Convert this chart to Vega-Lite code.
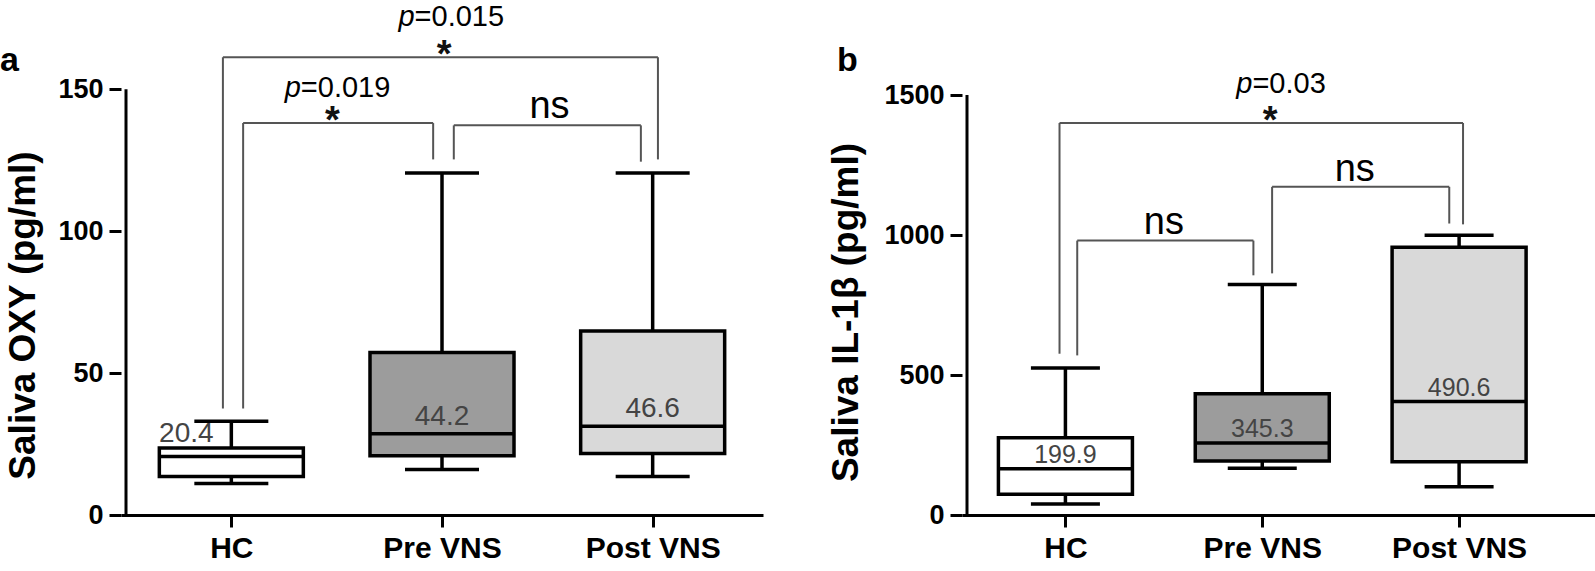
{
  "$schema": "https://vega.github.io/schema/vega-lite/v6.json",
  "padding": 0,
  "background": "white",
  "bounds": "flush",
  "spacing": 199,
  "datasets": {
    "boxesA": [
      {"g": 1, "name": "HC", "min": 11.1, "q1": 13.6, "median": 20.6, "q3": 23.6, "max": 33.0, "mean": 20.4},
      {"g": 2, "name": "Pre VNS", "min": 16.0, "q1": 20.9, "median": 28.6, "q3": 57.3, "max": 120.5, "mean": 44.2},
      {"g": 3, "name": "Post VNS", "min": 13.6, "q1": 21.7, "median": 31.3, "q3": 64.8, "max": 120.5, "mean": 46.6}
    ],
    "boxesB": [
      {"g": 1, "name": "HC", "min": 39, "q1": 74, "median": 165, "q3": 276, "max": 525, "mean": 199.9},
      {"g": 2, "name": "Pre VNS", "min": 167, "q1": 193, "median": 257, "q3": 433, "max": 823, "mean": 345.3},
      {"g": 3, "name": "Post VNS", "min": 101, "q1": 190, "median": 405, "q3": 956, "max": 999, "mean": 490.6}
    ],
    "bracketsA": [
      {"x1": 0.96, "x2": 3.025, "top": 161.3, "lb": 37.5, "rb": 125.3},
      {"x1": 1.056, "x2": 1.958, "top": 138.1, "lb": 37.5, "rb": 125.3},
      {"x1": 2.056, "x2": 2.944, "top": 137.3, "lb": 125.3, "rb": 124.5}
    ],
    "bracketsB": [
      {"x1": 0.97, "x2": 3.02, "top": 1400, "lb": 576, "rb": 1038},
      {"x1": 1.06, "x2": 1.955, "top": 980, "lb": 570, "rb": 856},
      {"x1": 2.05, "x2": 2.95, "top": 1172, "lb": 863, "rb": 1041}
    ],
    "annA": [
      {"kind": "p", "x": 1.87, "y": 172.3, "rest": "=0.015"},
      {"kind": "p", "x": 1.33, "y": 147.4, "rest": "=0.019"},
      {"kind": "star", "x": 2.01, "y": 158.0, "rest": "*"},
      {"kind": "star", "x": 1.48, "y": 134.5, "rest": "*"},
      {"kind": "ns", "x": 2.51, "y": 139.8, "rest": "ns"}
    ],
    "annB": [
      {"kind": "p", "x": 1.95, "y": 1508, "rest": "=0.03"},
      {"kind": "star", "x": 2.04, "y": 1365, "rest": "*"},
      {"kind": "ns", "x": 1.5, "y": 1003, "rest": "ns"},
      {"kind": "ns", "x": 2.47, "y": 1194, "rest": "ns"}
    ]
  },
  "config": {
    "view": {"stroke": null},
    "axis": {
      "grid": false,
      "domainColor": "black",
      "domainWidth": 3,
      "tickColor": "black",
      "tickWidth": 3,
      "tickSize": 12,
      "labelFont": "Liberation Sans",
      "labelFontWeight": "bold",
      "labelFontSize": 30,
      "labelColor": "black",
      "titleFont": "Liberation Sans",
      "titleFontWeight": "bold",
      "titleFontSize": 37,
      "titleColor": "black"
    },
    "axisY": {"labelFontSize": 27},
    "text": {"font": "Liberation Sans"}
  },
  "hconcat": [
    {
      "width": 642,
      "height": 515,
      "title": {"text": "a", "anchor": "start", "frame": "group", "dx": -121, "dy": 105, "offset": 0, "baseline": "alphabetic", "fontSize": 34, "font": "Liberation Sans", "fontWeight": "bold", "color": "black"},
      "layer": [
        {
          "data": {"values": [{}]},
          "mark": {"type": "rule", "strokeWidth": 3, "color": "black"},
          "encoding": {
            "x": {"datum": 0.5, "type": "quantitative"},
            "y": {"datum": 0, "type": "quantitative"},
            "y2": {"datum": 150}
          }
        },
        {
          "data": {"name": "boxesA"},
          "mark": {"type": "rule", "strokeWidth": 3.5, "color": "black"},
          "encoding": {
            "x": {"field": "g", "type": "quantitative", "scale": {"domain": [0.5, 3.5], "nice": false, "zero": false},
              "axis": {"values": [1, 2, 3], "labelExpr": "datum.value == 1 ? 'HC' : datum.value == 2 ? 'Pre VNS' : 'Post VNS'", "title": null, "labelPadding": 6, "labelFlush": false, "labelOverlap": false, "labelBound": false}},
            "y": {"field": "min", "type": "quantitative", "scale": {"domain": [0, 181.47], "nice": false, "zero": false},
              "axis": {"values": [0, 50, 100, 150], "format": "d", "domain": false, "title": "Saliva OXY (pg/ml)", "titleX": -87, "titleY": 315, "titleAngle": -90, "titleBaseline": "alphabetic", "titleAlign": "center", "labelPadding": 6, "labelOverlap": false, "labelFlush": false}},
            "y2": {"field": "max"}
          }
        },
        {
          "data": {"name": "boxesA"},
          "mark": {"type": "bar", "width": 144, "stroke": "black", "strokeWidth": 3.5},
          "encoding": {
            "x": {"field": "g", "type": "quantitative"},
            "y": {"field": "q1", "type": "quantitative"},
            "y2": {"field": "q3"},
            "fill": {"field": "name", "type": "nominal", "scale": {"domain": ["HC", "Pre VNS", "Post VNS"], "range": ["#ffffff", "#9c9c9c", "#d9d9d9"]}, "legend": null}
          }
        },
        {
          "data": {"name": "boxesA"},
          "mark": {"type": "tick", "orient": "horizontal", "size": 144, "thickness": 3.5, "color": "black", "opacity": 1},
          "encoding": {
            "x": {"field": "g", "type": "quantitative"},
            "y": {"field": "median", "type": "quantitative"}
          }
        },
        {
          "data": {"name": "boxesA"},
          "mark": {"type": "tick", "orient": "horizontal", "size": 74, "thickness": 3.5, "color": "black", "opacity": 1},
          "encoding": {
            "x": {"field": "g", "type": "quantitative"},
            "y": {"field": "min", "type": "quantitative"}
          }
        },
        {
          "data": {"name": "boxesA"},
          "mark": {"type": "tick", "orient": "horizontal", "size": 74, "thickness": 3.5, "color": "black", "opacity": 1},
          "encoding": {
            "x": {"field": "g", "type": "quantitative"},
            "y": {"field": "max", "type": "quantitative"}
          }
        },
        {
          "data": {"name": "boxesA"},
          "transform": [{"filter": "datum.name != 'HC'"}],
          "mark": {"type": "text", "fontSize": 28, "color": "#444444", "baseline": "alphabetic", "align": "center", "dy": -9},
          "encoding": {
            "x": {"field": "g", "type": "quantitative"},
            "y": {"field": "median", "type": "quantitative"},
            "text": {"field": "mean", "type": "quantitative", "format": ".1f"}
          }
        },
        {
          "data": {"name": "boxesA"},
          "transform": [{"filter": "datum.name == 'HC'"}],
          "mark": {"type": "text", "fontSize": 28, "color": "#444444", "baseline": "alphabetic", "align": "center", "dx": -45, "dy": -15},
          "encoding": {
            "x": {"field": "g", "type": "quantitative"},
            "y": {"field": "median", "type": "quantitative"},
            "text": {"field": "mean", "type": "quantitative", "format": ".1f"}
          }
        },
        {
          "data": {"name": "bracketsA"},
          "mark": {"type": "rule", "strokeWidth": 2, "color": "#555555"},
          "encoding": {
            "x": {"field": "x1", "type": "quantitative"},
            "x2": {"field": "x2"},
            "y": {"field": "top", "type": "quantitative"}
          }
        },
        {
          "data": {"name": "bracketsA"},
          "mark": {"type": "rule", "strokeWidth": 2, "color": "#555555"},
          "encoding": {
            "x": {"field": "x1", "type": "quantitative"},
            "y": {"field": "lb", "type": "quantitative"},
            "y2": {"field": "top"}
          }
        },
        {
          "data": {"name": "bracketsA"},
          "mark": {"type": "rule", "strokeWidth": 2, "color": "#555555"},
          "encoding": {
            "x": {"field": "x2", "type": "quantitative"},
            "y": {"field": "rb", "type": "quantitative"},
            "y2": {"field": "top"}
          }
        },
        {
          "data": {"name": "annA"},
          "transform": [{"filter": "datum.kind == 'p'"}],
          "mark": {"type": "text", "text": "p", "fontStyle": "italic", "fontSize": 29, "align": "right", "baseline": "alphabetic", "color": "black"},
          "encoding": {
            "x": {"field": "x", "type": "quantitative"},
            "y": {"field": "y", "type": "quantitative"}
          }
        },
        {
          "data": {"name": "annA"},
          "transform": [{"filter": "datum.kind == 'p'"}],
          "mark": {"type": "text", "fontSize": 29, "align": "left", "baseline": "alphabetic", "color": "black"},
          "encoding": {
            "x": {"field": "x", "type": "quantitative"},
            "y": {"field": "y", "type": "quantitative"},
            "text": {"field": "rest"}
          }
        },
        {
          "data": {"name": "annA"},
          "transform": [{"filter": "datum.kind == 'star'"}],
          "mark": {"type": "text", "fontSize": 38, "fontWeight": "bold", "align": "center", "baseline": "alphabetic", "color": "#111111"},
          "encoding": {
            "x": {"field": "x", "type": "quantitative"},
            "y": {"field": "y", "type": "quantitative"},
            "text": {"field": "rest"}
          }
        },
        {
          "data": {"name": "annA"},
          "transform": [{"filter": "datum.kind == 'ns'"}],
          "mark": {"type": "text", "fontSize": 38, "align": "center", "baseline": "alphabetic", "color": "black"},
          "encoding": {
            "x": {"field": "x", "type": "quantitative"},
            "y": {"field": "y", "type": "quantitative"},
            "text": {"field": "rest"}
          }
        }
      ]
    },
    {
      "width": 633,
      "height": 515,
      "title": {"text": "b", "anchor": "start", "frame": "group", "dx": -125, "dy": 105, "offset": 0, "baseline": "alphabetic", "fontSize": 34, "font": "Liberation Sans", "fontWeight": "bold", "color": "black"},
      "layer": [
        {
          "data": {"values": [{}]},
          "mark": {"type": "rule", "strokeWidth": 3, "color": "black"},
          "encoding": {
            "x": {"datum": 0.5, "type": "quantitative"},
            "y": {"datum": 0, "type": "quantitative"},
            "y2": {"datum": 1500}
          }
        },
        {
          "data": {"name": "boxesB"},
          "mark": {"type": "rule", "strokeWidth": 3.5, "color": "black"},
          "encoding": {
            "x": {"field": "g", "type": "quantitative", "scale": {"domain": [0.5, 3.665], "nice": false, "zero": false},
              "axis": {"values": [1, 2, 3], "labelExpr": "datum.value == 1 ? 'HC' : datum.value == 2 ? 'Pre VNS' : 'Post VNS'", "title": null, "labelPadding": 6, "labelFlush": false, "labelOverlap": false, "labelBound": false}},
            "y": {"field": "min", "type": "quantitative", "scale": {"domain": [0, 1839.3], "nice": false, "zero": false},
              "axis": {"values": [0, 500, 1000, 1500], "format": "d", "domain": false, "title": "Saliva IL-1β  (pg/ml)", "titleX": -105, "titleY": 312, "titleAngle": -90, "titleBaseline": "alphabetic", "titleAlign": "center", "labelPadding": 6, "labelOverlap": false, "labelFlush": false}},
            "y2": {"field": "max"}
          }
        },
        {
          "data": {"name": "boxesB"},
          "mark": {"type": "bar", "width": 134, "stroke": "black", "strokeWidth": 3.5},
          "encoding": {
            "x": {"field": "g", "type": "quantitative"},
            "y": {"field": "q1", "type": "quantitative"},
            "y2": {"field": "q3"},
            "fill": {"field": "name", "type": "nominal", "scale": {"domain": ["HC", "Pre VNS", "Post VNS"], "range": ["#ffffff", "#9c9c9c", "#d9d9d9"]}, "legend": null}
          }
        },
        {
          "data": {"name": "boxesB"},
          "mark": {"type": "tick", "orient": "horizontal", "size": 134, "thickness": 3.5, "color": "black", "opacity": 1},
          "encoding": {
            "x": {"field": "g", "type": "quantitative"},
            "y": {"field": "median", "type": "quantitative"}
          }
        },
        {
          "data": {"name": "boxesB"},
          "mark": {"type": "tick", "orient": "horizontal", "size": 69, "thickness": 3.5, "color": "black", "opacity": 1},
          "encoding": {
            "x": {"field": "g", "type": "quantitative"},
            "y": {"field": "min", "type": "quantitative"}
          }
        },
        {
          "data": {"name": "boxesB"},
          "mark": {"type": "tick", "orient": "horizontal", "size": 69, "thickness": 3.5, "color": "black", "opacity": 1},
          "encoding": {
            "x": {"field": "g", "type": "quantitative"},
            "y": {"field": "max", "type": "quantitative"}
          }
        },
        {
          "data": {"name": "boxesB"},
          "mark": {"type": "text", "fontSize": 25, "color": "#444444", "baseline": "alphabetic", "align": "center", "dy": -6},
          "encoding": {
            "x": {"field": "g", "type": "quantitative"},
            "y": {"field": "median", "type": "quantitative"},
            "text": {"field": "mean", "type": "quantitative", "format": ".1f"}
          }
        },
        {
          "data": {"name": "bracketsB"},
          "mark": {"type": "rule", "strokeWidth": 2, "color": "#555555"},
          "encoding": {
            "x": {"field": "x1", "type": "quantitative"},
            "x2": {"field": "x2"},
            "y": {"field": "top", "type": "quantitative"}
          }
        },
        {
          "data": {"name": "bracketsB"},
          "mark": {"type": "rule", "strokeWidth": 2, "color": "#555555"},
          "encoding": {
            "x": {"field": "x1", "type": "quantitative"},
            "y": {"field": "lb", "type": "quantitative"},
            "y2": {"field": "top"}
          }
        },
        {
          "data": {"name": "bracketsB"},
          "mark": {"type": "rule", "strokeWidth": 2, "color": "#555555"},
          "encoding": {
            "x": {"field": "x2", "type": "quantitative"},
            "y": {"field": "rb", "type": "quantitative"},
            "y2": {"field": "top"}
          }
        },
        {
          "data": {"name": "annB"},
          "transform": [{"filter": "datum.kind == 'p'"}],
          "mark": {"type": "text", "text": "p", "fontStyle": "italic", "fontSize": 29, "align": "right", "baseline": "alphabetic", "color": "black"},
          "encoding": {
            "x": {"field": "x", "type": "quantitative"},
            "y": {"field": "y", "type": "quantitative"}
          }
        },
        {
          "data": {"name": "annB"},
          "transform": [{"filter": "datum.kind == 'p'"}],
          "mark": {"type": "text", "fontSize": 29, "align": "left", "baseline": "alphabetic", "color": "black"},
          "encoding": {
            "x": {"field": "x", "type": "quantitative"},
            "y": {"field": "y", "type": "quantitative"},
            "text": {"field": "rest"}
          }
        },
        {
          "data": {"name": "annB"},
          "transform": [{"filter": "datum.kind == 'star'"}],
          "mark": {"type": "text", "fontSize": 38, "fontWeight": "bold", "align": "center", "baseline": "alphabetic", "color": "#111111"},
          "encoding": {
            "x": {"field": "x", "type": "quantitative"},
            "y": {"field": "y", "type": "quantitative"},
            "text": {"field": "rest"}
          }
        },
        {
          "data": {"name": "annB"},
          "transform": [{"filter": "datum.kind == 'ns'"}],
          "mark": {"type": "text", "fontSize": 38, "align": "center", "baseline": "alphabetic", "color": "black"},
          "encoding": {
            "x": {"field": "x", "type": "quantitative"},
            "y": {"field": "y", "type": "quantitative"},
            "text": {"field": "rest"}
          }
        }
      ]
    }
  ]
}
